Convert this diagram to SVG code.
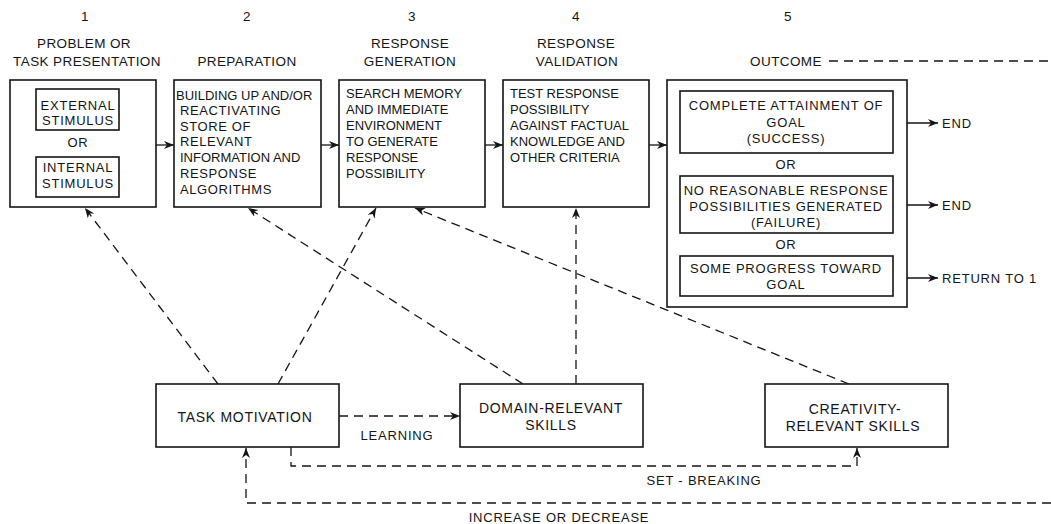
<svg xmlns="http://www.w3.org/2000/svg" width="1051" height="524" viewBox="0 0 1051 524">
<style>
text{font-family:"Liberation Sans",Arial,sans-serif;fill:#151515}
.h{font-size:13.5px;letter-spacing:0.4px;text-anchor:middle}
.b{font-size:13px}
.o{font-size:13px;letter-spacing:0.8px;text-anchor:middle}
.m{font-size:14px;letter-spacing:0.7px;text-anchor:middle}
.box{fill:#fff;stroke:#151515;stroke-width:1.6}
.ln{fill:none;stroke:#151515;stroke-width:1.3}
.d{fill:none;stroke:#151515;stroke-width:1.3;stroke-dasharray:9,6}
</style>
<defs>
<marker id="ah" markerUnits="userSpaceOnUse" markerWidth="12" markerHeight="10" refX="10" refY="4" orient="auto">
<path d="M0,0 L10,4 L0,8 L3,4 z" fill="#151515"/>
</marker>
</defs>
<rect width="1051" height="524" fill="#fff"/>

<g id="headings">
<text class="h" x="85" y="21">1</text>
<text class="h" x="247" y="21">2</text>
<text class="h" x="412" y="21">3</text>
<text class="h" x="576" y="21">4</text>
<text class="h" x="788" y="21">5</text>
<text class="h" x="84" y="48">PROBLEM OR</text>
<text class="h" x="87" y="66">TASK PRESENTATION</text>
<text class="h" x="247" y="66">PREPARATION</text>
<text class="h" x="410" y="48">RESPONSE</text>
<text class="h" x="410" y="66">GENERATION</text>
<text class="h" x="576" y="48">RESPONSE</text>
<text class="h" x="577" y="66">VALIDATION</text>
<text class="h" x="786" y="66">OUTCOME</text>
</g>

<g id="connectors">
<line class="ln" x1="156" y1="145" x2="174" y2="145" marker-end="url(#ah)"/>
<line class="ln" x1="321" y1="145" x2="339" y2="145" marker-end="url(#ah)"/>
<line class="ln" x1="485" y1="145" x2="503" y2="145" marker-end="url(#ah)"/>
<line class="ln" x1="649" y1="145" x2="667" y2="145" marker-end="url(#ah)"/>
<line class="ln" x1="893" y1="123" x2="938" y2="123" marker-end="url(#ah)"/>
<line class="ln" x1="893" y1="205" x2="938" y2="205" marker-end="url(#ah)"/>
<line class="ln" x1="893" y1="278" x2="938" y2="278" marker-end="url(#ah)"/>
<line class="d" x1="829" y1="61" x2="1051" y2="61"/>
<line class="d" x1="218" y1="384" x2="85" y2="208" marker-end="url(#ah)"/>
<line class="d" x1="278" y1="384" x2="376" y2="208" marker-end="url(#ah)"/>
<line class="d" x1="523" y1="384" x2="248" y2="208" marker-end="url(#ah)"/>
<line class="d" x1="576" y1="384" x2="576" y2="208" marker-end="url(#ah)"/>
<line class="d" x1="849" y1="384" x2="415" y2="208" marker-end="url(#ah)"/>
<line class="d" x1="339" y1="416" x2="460" y2="416" marker-end="url(#ah)"/>
<polyline class="d" points="291,447 291,466 857,466 857,448" marker-end="url(#ah)"/>
<polyline class="d" points="1051,503 246,503 246,448" marker-end="url(#ah)"/>
<text class="b" x="397" y="440" text-anchor="middle" letter-spacing="0.8">LEARNING</text>
<text class="b" x="704" y="485" text-anchor="middle" letter-spacing="0.8">SET - BREAKING</text>
<text class="b" x="559" y="522" text-anchor="middle" letter-spacing="0.8">INCREASE OR DECREASE</text>
<text class="b" x="942" y="128" letter-spacing="0.8">END</text>
<text class="b" x="942" y="210" letter-spacing="0.8">END</text>
<text class="b" x="942" y="283" letter-spacing="0.8">RETURN TO 1</text>
</g>

<g id="n1">
<rect class="box" x="10" y="80" width="146" height="127"/>
<rect class="box" x="36" y="89" width="83" height="41"/>
<rect class="box" x="36" y="157" width="83" height="40"/>
<text class="o" x="78" y="110" letter-spacing="0.4">EXTERNAL</text>
<text class="o" x="78" y="125" letter-spacing="0.4">STIMULUS</text>
<text class="o" x="78" y="147">OR</text>
<text class="o" x="78" y="172" letter-spacing="0.4">INTERNAL</text>
<text class="o" x="78" y="188" letter-spacing="0.4">STIMULUS</text>
</g>

<g id="n2">
<rect class="box" x="174" y="80" width="147" height="127"/>
<text class="b" x="176" y="100">BUILDING UP AND/OR</text>
<text class="b" x="180" y="115" letter-spacing="0.6">REACTIVATING</text>
<text class="b" x="180" y="131" letter-spacing="0.6">STORE OF</text>
<text class="b" x="180" y="146" letter-spacing="0.6">RELEVANT</text>
<text class="b" x="180" y="162">INFORMATION AND</text>
<text class="b" x="180" y="178" letter-spacing="0.6">RESPONSE</text>
<text class="b" x="180" y="194" letter-spacing="0.6">ALGORITHMS</text>
</g>

<g id="n3">
<rect class="box" x="339" y="80" width="146" height="127"/>
<text class="b" x="346" y="98">SEARCH MEMORY</text>
<text class="b" x="346" y="114">AND IMMEDIATE</text>
<text class="b" x="346" y="130">ENVIRONMENT</text>
<text class="b" x="346" y="146">TO GENERATE</text>
<text class="b" x="346" y="162">RESPONSE</text>
<text class="b" x="346" y="178">POSSIBILITY</text>
</g>

<g id="n4">
<rect class="box" x="503" y="80" width="146" height="127"/>
<text class="b" x="510" y="98">TEST RESPONSE</text>
<text class="b" x="510" y="114">POSSIBILITY</text>
<text class="b" x="510" y="130">AGAINST FACTUAL</text>
<text class="b" x="510" y="146">KNOWLEDGE AND</text>
<text class="b" x="510" y="162">OTHER CRITERIA</text>
</g>

<g id="n5">
<rect class="box" x="667" y="80" width="240" height="227"/>
<rect class="box" x="680" y="91" width="213" height="62"/>
<rect class="box" x="680" y="176" width="213" height="57"/>
<rect class="box" x="680" y="256" width="213" height="40"/>
<text class="o" x="786" y="110">COMPLETE ATTAINMENT OF</text>
<text class="o" x="786" y="127">GOAL</text>
<text class="o" x="786" y="143">(SUCCESS)</text>
<text class="o" x="786" y="169">OR</text>
<text class="o" x="786" y="195">NO REASONABLE RESPONSE</text>
<text class="o" x="786" y="211">POSSIBILITIES GENERATED</text>
<text class="o" x="786" y="227">(FAILURE)</text>
<text class="o" x="786" y="249">OR</text>
<text class="o" x="786" y="273">SOME PROGRESS TOWARD</text>
<text class="o" x="786" y="289">GOAL</text>
</g>

<g id="n6">
<rect class="box" x="156" y="384" width="183" height="63"/>
<text class="m" x="245" y="422">TASK MOTIVATION</text>
</g>

<g id="n7">
<rect class="box" x="460" y="384" width="183" height="63"/>
<text class="m" x="551" y="413">DOMAIN-RELEVANT</text>
<text class="m" x="551" y="430">SKILLS</text>
</g>

<g id="n8">
<rect class="box" x="765" y="384" width="183" height="63"/>
<text class="m" x="855" y="414">CREATIVITY-</text>
<text class="m" x="853" y="431">RELEVANT SKILLS</text>
</g>
</svg>
